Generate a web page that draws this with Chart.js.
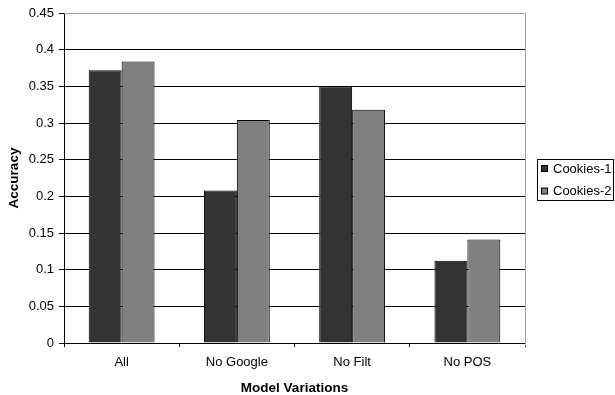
<!DOCTYPE html>
<html>
<head>
<meta charset="utf-8">
<script src="https://cdn.jsdelivr.net/npm/chart.js@4/dist/chart.umd.min.js"></script>
<style>
html,body{margin:0;padding:0;background:#fff;}
#wrap{position:relative;width:615px;height:395px;}
</style>
</head>
<body>
<div id="wrap"><canvas id="c" width="615" height="395"></canvas></div>
<script>
const categories = ["All", "No Google", "No Filt", "No POS"];
const cookies1 = [0.372, 0.208, 0.350, 0.112];
const cookies2 = [0.384, 0.304, 0.318, 0.141];
const seriesNames = ["Cookies-1", "Cookies-2"];
const seriesColors = ["#333333", "#808080"];
const yTickLabels = ["0", "0.05", "0.1", "0.15", "0.2", "0.25", "0.3", "0.35", "0.4", "0.45"];
const xTitle = "Model Variations";
const yTitle = "Accuracy";

const FONT = "'Liberation Sans', Arial, sans-serif";

const framePlugin = {
  id: 'frame',
  afterDatasetsDraw(chart) {
    const {ctx, chartArea: a} = chart;
    ctx.save();
    ctx.strokeStyle = '#a0a0a0';
    ctx.lineWidth = 1;
    ctx.beginPath();
    ctx.moveTo(a.left, a.top + 0.5);
    ctx.lineTo(a.right + 0.5, a.top + 0.5);
    ctx.lineTo(a.right + 0.5, a.bottom + 3);
    ctx.stroke();
    ctx.restore();
  },
  afterDraw(chart) {
    const {ctx} = chart;
    const bx = 537.5, by = 159.5, bw = 76, bh = 41;
    ctx.save();
    ctx.fillStyle = '#fff';
    ctx.fillRect(bx, by, bw, bh);
    ctx.strokeStyle = '#000';
    ctx.lineWidth = 1;
    ctx.strokeRect(bx, by, bw, bh);
    ctx.font = "13px " + FONT;
    ctx.textBaseline = 'middle';
    ctx.textAlign = 'left';
    chart.data.datasets.forEach((ds, i) => {
      const cy = 168.5 + i * 22.5;
      ctx.fillStyle = ds.backgroundColor;
      ctx.fillRect(541.5, cy - 3, 6, 6);
      ctx.strokeStyle = '#000';
      ctx.strokeRect(541.5, cy - 3, 6, 6);
      ctx.fillStyle = '#000';
      ctx.fillText(ds.label, 553, cy + 0.5);
    });
    ctx.restore();
  }
};

new Chart(document.getElementById('c'), {
  type: 'bar',
  data: {
    labels: categories,
    datasets: [
      {label: seriesNames[0], data: cookies1, backgroundColor: seriesColors[0], borderColor: '#000', borderWidth: 1},
      {label: seriesNames[1], data: cookies2, backgroundColor: seriesColors[1], borderColor: '#000', borderWidth: 1}
    ]
  },
  options: {
    responsive: false,
    animation: false,
    devicePixelRatio: 1,
    datasets: {bar: {categoryPercentage: 2 / 3.5, barPercentage: 1}},
    layout: {padding: {left: 0, right: 90, top: 13, bottom: 0}},
    plugins: {legend: {display: false}, tooltip: {enabled: false}},
    scales: {
      x: {
        grid: {offset: true, drawOnChartArea: false, drawTicks: true, tickLength: 4, tickColor: '#000', lineWidth: 1},
        border: {color: '#000', width: 1},
        ticks: {color: '#000', font: {family: FONT, size: 13}, padding: 8, maxRotation: 0},
        title: {display: true, text: xTitle, color: '#000', font: {family: FONT, size: 13.5, weight: 'bold', lineHeight: 1}, padding: {top: 0, bottom: 0}},
        afterFit(s) { s.height = 52; }
      },
      y: {
        min: 0, max: 0.45,
        ticks: {
          stepSize: 0.05, color: '#000', font: {family: FONT, size: 13}, padding: 5,
          callback: (v, i) => yTickLabels[i]
        },
        grid: {
          color: (c) => (c.index === yTickLabels.length - 1 ? '#a0a0a0' : '#000'),
          tickColor: '#000', tickLength: 5, lineWidth: 1
        },
        border: {color: '#000', width: 1},
        title: {display: true, text: yTitle, color: '#000', font: {family: FONT, size: 13.5, weight: 'bold', lineHeight: 1}, padding: {top: 7.5, bottom: 0}},
        afterFit(s) { s.width = 64; }
      }
    }
  },
  plugins: [framePlugin]
});
</script>
</body>
</html>
